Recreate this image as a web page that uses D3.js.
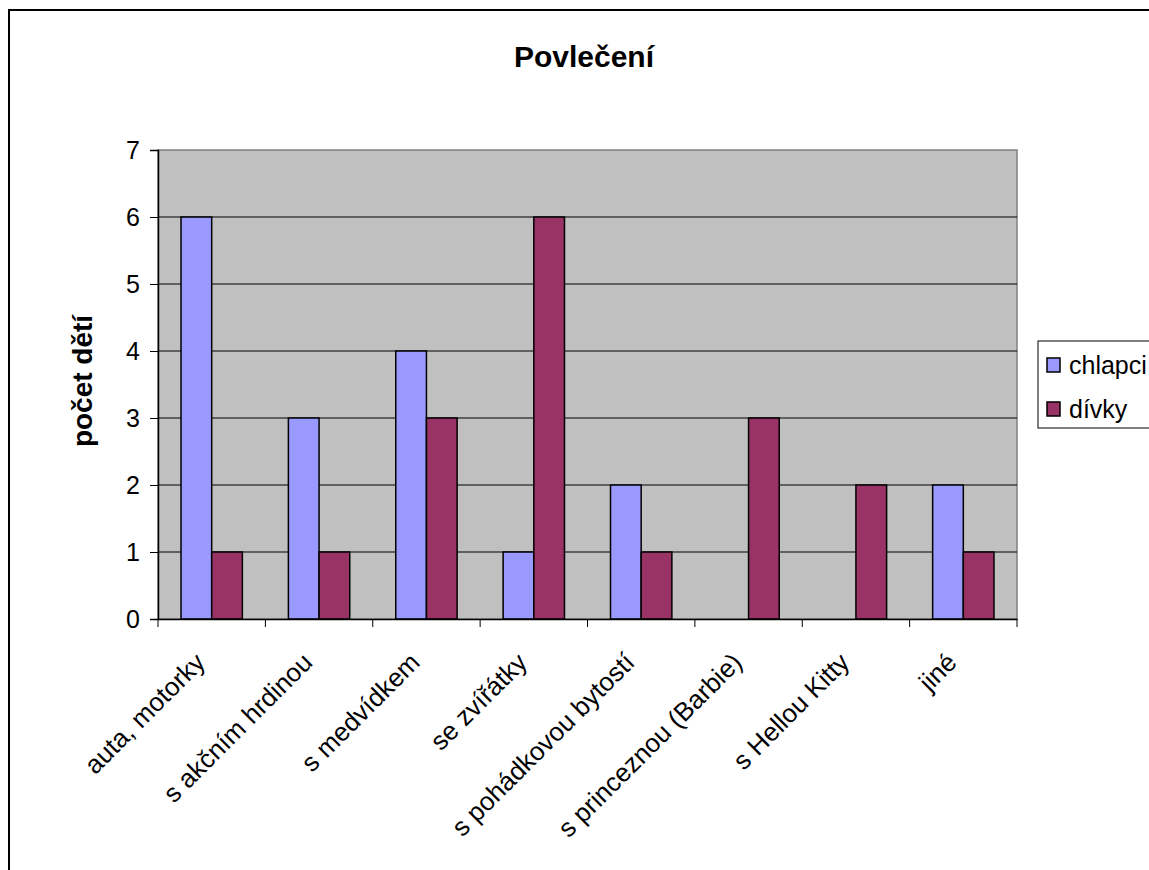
<!DOCTYPE html>
<html>
<head>
<meta charset="utf-8">
<script src="https://cdn.jsdelivr.net/npm/d3@7"></script>
<style>
  body { margin: 0; background: #fff; }
  svg { font-family: Arial, "Liberation Sans", sans-serif; }
</style>
</head>
<body>
<div id="chart"></div>
<script>
const categories = ["auta, motorky", "s akčním hrdinou", "s medvídkem", "se zvířátky",
    "s pohádkovou bytostí", "s princeznou (Barbie)", "s Hellou Kitty", "jiné"];
const seriesNames = ["chlapci", "dívky"];
const chlapci = [6, 3, 4, 1, 2, 0, 0, 2];
const divky = [1, 1, 3, 6, 1, 3, 2, 1];
const yTicks = [0, 1, 2, 3, 4, 5, 6, 7];
const colors = ["#9999FF", "#993366"];

const WIDTH = 1149, HEIGHT = 870;
const plot = { left: 158, top: 150, right: 1017, bottom: 619 };

const svg = d3.select("#chart").append("svg")
    .attr("width", WIDTH).attr("height", HEIGHT);

// outer frame
svg.append("rect")
    .attr("x", 9).attr("y", 10).attr("width", WIDTH + 10).attr("height", HEIGHT + 10)
    .attr("fill", "#fff").attr("stroke", "#000").attr("stroke-width", 2);

const x = d3.scaleBand().domain(categories).range([plot.left, plot.right]);
const y = d3.scaleLinear().domain([0, 7]).range([plot.bottom, plot.top]);
const barW = x.bandwidth() / 3.5;
const xs = d3.scaleBand().domain(seriesNames)
    .range([0, barW * 2]);

// plot background
svg.append("rect")
    .attr("x", plot.left).attr("y", plot.top)
    .attr("width", plot.right - plot.left).attr("height", plot.bottom - plot.top)
    .attr("fill", "#C0C0C0").attr("stroke", "#808080").attr("stroke-width", 1.5);

// gridlines
svg.append("g").selectAll("line")
    .data(yTicks.filter(d => d > 0 && d < 7))
    .join("line")
    .attr("x1", plot.left).attr("x2", plot.right)
    .attr("y1", d => y(d)).attr("y2", d => y(d))
    .attr("stroke", "#000").attr("stroke-width", 1);

// bars
const rows = categories.map((c, i) => ({ cat: c, values: [chlapci[i], divky[i]] }));
const groups = svg.append("g").selectAll("g")
    .data(rows).join("g")
    .attr("transform", d => `translate(${x(d.cat) + (x.bandwidth() - barW * 2) / 2},0)`);
groups.selectAll("rect")
    .data(d => d.values.map((v, k) => ({ name: seriesNames[k], v, k })).filter(e => e.v > 0))
    .join("rect")
    .attr("x", d => xs(d.name))
    .attr("width", xs.bandwidth())
    .attr("y", d => y(d.v))
    .attr("height", d => y(0) - y(d.v))
    .attr("fill", d => colors[d.k])
    .attr("stroke", "#000").attr("stroke-width", 1.5);

// y axis
const yAxis = svg.append("g")
    .attr("transform", `translate(${plot.left},0)`)
    .call(d3.axisLeft(y).tickValues(yTicks).tickSize(8).tickPadding(10).tickFormat(d3.format("d")));
yAxis.select(".domain").attr("stroke", "#000").attr("stroke-width", 1.5);
yAxis.selectAll("text").attr("font-size", 25).attr("fill", "#000");

// x axis
const xAxis = svg.append("g")
    .attr("transform", `translate(0,${plot.bottom})`)
    .call(d3.axisBottom(x).tickSize(0).tickPadding(0));
xAxis.select(".domain").attr("stroke", "#000").attr("stroke-width", 1.5);
const bounds = categories.map(c => x(c)).concat([plot.right]);
xAxis.selectAll(".sep").data(bounds).join("line")
    .attr("x1", d => d).attr("x2", d => d).attr("y1", 0).attr("y2", 8)
    .attr("stroke", "#000").attr("stroke-width", 1);
xAxis.selectAll(".tick text")
    .attr("font-size", 26).attr("fill", "#000")
    .attr("text-anchor", "end")
    .attr("dy", null)
    .attr("transform", "translate(-5,45) rotate(-45)");

// title
svg.append("text")
    .attr("x", 584).attr("y", 67)
    .attr("text-anchor", "middle")
    .attr("font-size", 30).attr("font-weight", "bold")
    .text("Povlečení");

// y label
svg.append("text")
    .attr("transform", `translate(92,381) rotate(-90)`)
    .attr("text-anchor", "middle")
    .attr("font-size", 28).attr("font-weight", "bold")
    .text("počet dětí");

// legend
const legend = svg.append("g").attr("transform", "translate(1038,341)");
legend.append("rect")
    .attr("width", 130).attr("height", 87)
    .attr("fill", "#fff").attr("stroke", "#000").attr("stroke-width", 1);
const items = legend.selectAll(".item").data(seriesNames).join("g")
    .attr("transform", (d, i) => `translate(9,${24 + i * 44})`);
items.append("rect")
    .attr("x", 0).attr("y", -7).attr("width", 13).attr("height", 14)
    .attr("fill", (d, i) => colors[i]).attr("stroke", "#000").attr("stroke-width", 1.5);
items.append("text")
    .attr("x", 22).attr("y", 0).attr("dy", "0.35em")
    .attr("font-size", 25)
    .text(d => d);
</script>
</body>
</html>
